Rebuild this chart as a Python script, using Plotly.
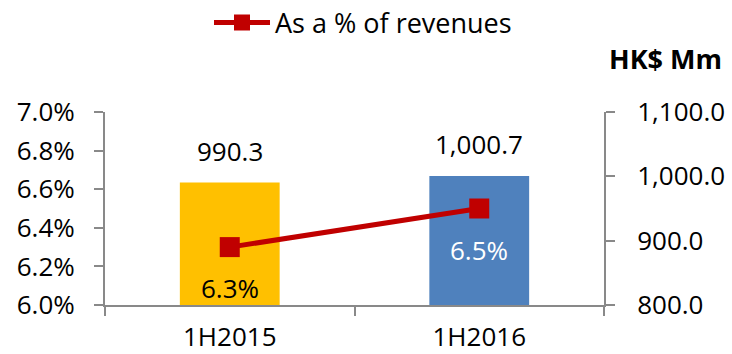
import plotly.graph_objects as go

# Half-year periods
periods = ["1H2015", "1H2016"]
# Expense amount, HK$ Mm
amounts = [990.3, 1000.7]
amount_labels = ["990.3", "1,000.7"]
# Expense as a share of revenues
pct_of_revenue = [0.063, 0.065]
pct_labels = ["6.3%", "6.5%"]

bar_colors = ["#FFC000", "#4F81BD"]
pct_label_colors = ["#000000", "#FFFFFF"]
line_color = "#C00000"
axis_gray = "#898989"
font_family = "Open Sans, Noto Sans, sans-serif"

W, H = 732, 354
M_L, M_R, M_T, M_B = 105, 128, 112, 49
plot_w = W - M_L - M_R
plot_h = H - M_T - M_B


def px_to_paper(px, py):
    return (px - M_L) / plot_w, (H - M_B - py) / plot_h


fig = go.Figure()

fig.add_trace(go.Bar(
    x=periods, y=amounts, marker=dict(color=bar_colors, line=dict(width=0)),
    width=0.4, yaxis="y", showlegend=False, hoverinfo="skip",
))

fig.add_trace(go.Scatter(
    x=periods, y=pct_of_revenue, mode="lines+markers", name="As a % of revenues",
    line=dict(color=line_color, width=5),
    marker=dict(symbol="square", size=20, color=line_color),
    yaxis="y2",
))

annotations = []
for p, v, lab in zip(periods, amounts, amount_labels):
    annotations.append(dict(
        x=p, y=v, xref="x", yref="y", text=lab, showarrow=False,
        yanchor="middle", yshift=32, font=dict(size=26, color="#000000"),
    ))
for p, v, lab, c in zip(periods, pct_of_revenue, pct_labels, pct_label_colors):
    annotations.append(dict(
        x=p, y=v, xref="x", yref="y2", text=lab, showarrow=False,
        yanchor="middle", yshift=-41, font=dict(size=26, color=c),
    ))
ux, uy = px_to_paper(665, 59)
annotations.append(dict(
    x=ux, y=uy, xref="paper", yref="paper", text="<b>HK$ Mm</b>", showarrow=False,
    xanchor="center", yanchor="middle", font=dict(size=27, color="#000000"),
))

axis_common = dict(
    showgrid=False, zeroline=False, showline=True, linecolor=axis_gray, linewidth=2,
    ticks="outside", ticklen=9, tickcolor=axis_gray, tickwidth=2,
    tickfont=dict(size=26), automargin=False,
)

fig.update_layout(
    width=W, height=H,
    margin=dict(l=M_L, r=M_R, t=M_T, b=M_B, pad=0, autoexpand=False),
    paper_bgcolor="white", plot_bgcolor="white",
    font=dict(family=font_family, size=26, color="#000000"),
    xaxis=dict(type="category", tickson="boundaries", ticklabelstandoff=8, **axis_common),
    yaxis=dict(
        side="right", range=[800, 1100], dtick=100, tickformat=",.1f",
        ticklabelstandoff=17, **axis_common,
    ),
    yaxis2=dict(
        side="left", overlaying="y", range=[0.06, 0.07], dtick=0.002, tickformat=".1%",
        ticklabelstandoff=14, **axis_common,
    ),
    legend=dict(
        orientation="h", xref="container", yref="container",
        x=363 / W, xanchor="center", y=(H - 23) / H, yanchor="middle",
        font=dict(size=27), bgcolor="rgba(0,0,0,0)", itemwidth=56,
    ),
    annotations=annotations,
)

fig.write_html("out.html")
